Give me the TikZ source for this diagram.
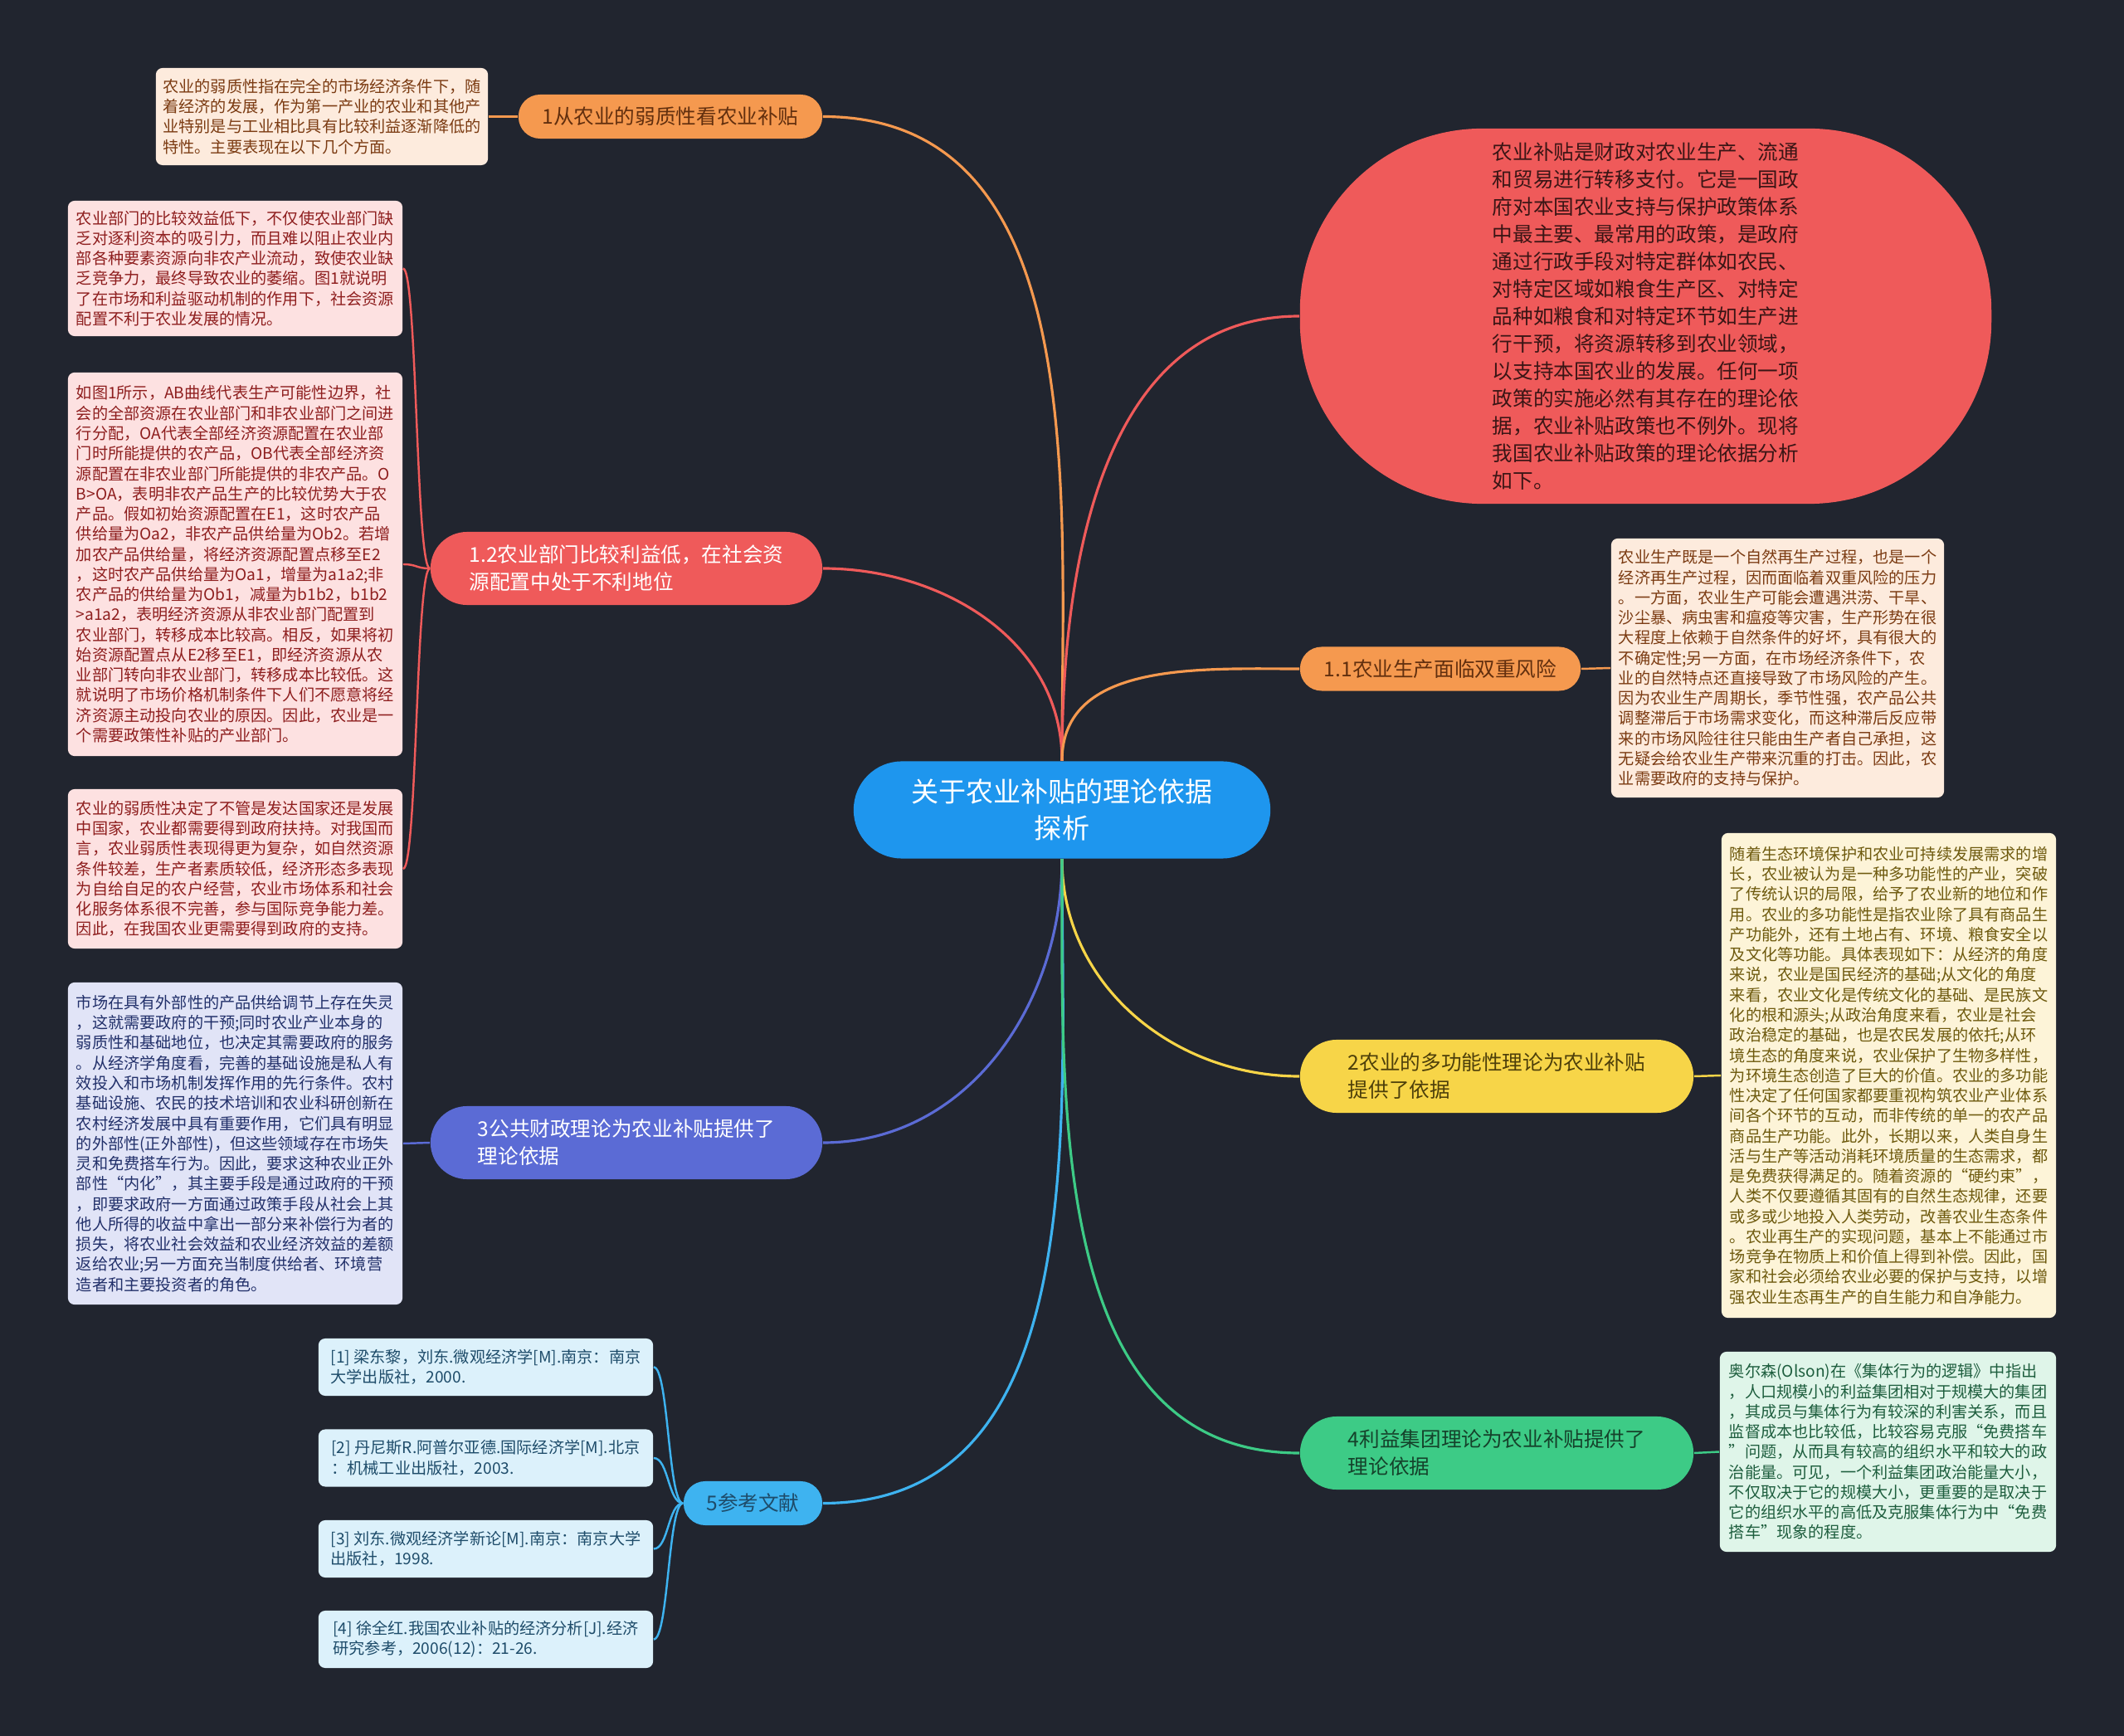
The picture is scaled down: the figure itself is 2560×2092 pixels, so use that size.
\documentclass[tikz,border=0pt]{standalone}
\usepackage{fontspec}
\setmainfont{Noto Sans CJK SC}

\definecolor{bgdark}{HTML}{21252F}
\definecolor{topicblue}{HTML}{1E96EE}
\definecolor{orangeb}{HTML}{F5994F}
\definecolor{redb}{HTML}{EF5A5A}
\definecolor{purpleb}{HTML}{5B6BD5}
\definecolor{cyanb}{HTML}{3EB3F0}
\definecolor{yellowb}{HTML}{F7D548}
\definecolor{greenb}{HTML}{3DCB86}
\definecolor{peach}{HTML}{FDEBDD}
\definecolor{peachtext}{HTML}{7B3B12}
\definecolor{pink}{HTML}{FDE1E1}
\definecolor{pinktext}{HTML}{8E1E1E}
\definecolor{lavender}{HTML}{E1E4F7}
\definecolor{lavtext}{HTML}{22306A}
\definecolor{cyanfill}{HTML}{DCF1FB}
\definecolor{cyantext}{HTML}{1E4C6A}
\definecolor{cream}{HTML}{FDF4D8}
\definecolor{creamtext}{HTML}{6E5A0E}
\definecolor{mint}{HTML}{DFF5E9}
\definecolor{minttext}{HTML}{1E5E3E}
\definecolor{introtext}{HTML}{3A1515}

\begin{document}
\begin{tikzpicture}[x=0.01cm, y=-0.01cm,
    % Node styles
    topic/.style={
        rectangle, rounded corners=0.58cm,
        minimum width=5.02cm, minimum height=1.17cm,
        fill=topicblue, text=white, align=center,
        font=\fontsize{9.4pt}{12.5pt}\selectfont,
    },
    branch/.style={
        rectangle, rounded corners=0.26cm,
        minimum height=0.53cm, inner sep=2pt,
        fill=#1, align=left,
        font=\fontsize{7pt}{9.4pt}\selectfont,
    },
    twoline/.style={
        minimum height=0.88cm, rounded corners=0.44cm,
    },
    note/.style 2 args={
        rectangle, rounded corners=0.08cm,
        minimum width=4.03cm, inner sep=2pt,
        fill=#1, text=#2, align=left,
        font=\fontsize{5.45pt}{6.9pt}\selectfont,
    },
    intro/.style={
        rectangle, rounded corners=2.2cm,
        minimum width=8.33cm, minimum height=4.52cm,
        fill=redb, text=introtext, align=left,
        font=\fontsize{7pt}{9.4pt}\selectfont,
    },
    line/.style={draw=#1, line width=0.9pt},
    link/.style={draw=#1, line width=0.7pt},
]

\fill[bgdark] (0,0) rectangle (2560,2092);
\useasboundingbox (0,0) rectangle (2560,2092);

% === Centre ===
\node[topic] (topic) at (1280,976) {关于农业补贴的理论依据\\探析};

% === Left branches ===
\node[branch=orangeb, text=peachtext!80!black, minimum width=3.66cm] (weak) at (808,140.5) {1从农业的弱质性看农业补贴};
\node[branch=redb, twoline, text=white, minimum width=4.72cm] (lowgain) at (755,685) {1.2农业部门比较利益低，在社会资\\源配置中处于不利地位};
\node[branch=purpleb, twoline, text=white, minimum width=4.72cm] (finance) at (755,1377) {3公共财政理论为农业补贴提供了\\理论依据};
\node[branch=cyanb, text=cyantext, minimum width=1.67cm] (refs) at (907.5,1811.5) {5参考文献};

% === Right branches ===
\node[intro] (intro) at (1983.5,381) {农业补贴是财政对农业生产、流通\\
和贸易进行转移支付。它是一国政\\
府对本国农业支持与保护政策体系\\
中最主要、最常用的政策，是政府\\
通过行政手段对特定群体如农民、\\
对特定区域如粮食生产区、对特定\\
品种如粮食和对特定环节如生产进\\
行干预，将资源转移到农业领域，\\
以支持本国农业的发展。任何一项\\
政策的实施必然有其存在的理论依\\
据，农业补贴政策也不例外。现将\\
我国农业补贴政策的理论依据分析\\
如下。};
\node[branch=orangeb, text=peachtext!80!black, minimum width=3.38cm] (risk) at (1736,806) {1.1农业生产面临双重风险};
\node[branch=yellowb, twoline, text=creamtext!70!black, minimum width=4.74cm] (multi) at (1804,1297) {2农业的多功能性理论为农业补贴\\提供了依据};
\node[branch=greenb, twoline, text=minttext!70!black, minimum width=4.74cm] (group) at (1804,1751) {4利益集团理论为农业补贴提供了\\理论依据};

% === Notes, left ===
\node[note={peach}{peachtext}, minimum width=4cm, minimum height=1.17cm] (weaknote) at (388,140.5) {农业的弱质性指在完全的市场经济条件下，随\\
着经济的发展，作为第一产业的农业和其他产\\
业特别是与工业相比具有比较利益逐渐降低的\\
特性。主要表现在以下几个方面。};

\node[note={pink}{pinktext}, minimum height=1.63cm] (gainone) at (283.5,323.5) {农业部门的比较效益低下，不仅使农业部门缺\\
乏对逐利资本的吸引力，而且难以阻止农业内\\
部各种要素资源向非农产业流动，致使农业缺\\
乏竞争力，最终导致农业的萎缩。图1就说明\\
了在市场和利益驱动机制的作用下，社会资源\\
配置不利于农业发展的情况。};

\node[note={pink}{pinktext}, minimum height=4.62cm] (gaintwo) at (283.5,680) {如图1所示，AB曲线代表生产可能性边界，社\\
会的全部资源在农业部门和非农业部门之间进\\
行分配，OA代表全部经济资源配置在农业部\\
门时所能提供的农产品，OB代表全部经济资\\
源配置在非农业部门所能提供的非农产品。O\\
B>OA，表明非农产品生产的比较优势大于农\\
产品。假如初始资源配置在E1，这时农产品\\
供给量为Oa2，非农产品供给量为Ob2。若增\\
加农产品供给量，将经济资源配置点移至E2\\
，这时农产品供给量为Oa1，增量为a1a2;非\\
农产品的供给量为Ob1，减量为b1b2，b1b2\\
>a1a2，表明经济资源从非农业部门配置到\\
农业部门，转移成本比较高。相反，如果将初\\
始资源配置点从E2移至E1，即经济资源从农\\
业部门转向非农业部门，转移成本比较低。这\\
就说明了市场价格机制条件下人们不愿意将经\\
济资源主动投向农业的原因。因此，农业是一\\
个需要政策性补贴的产业部门。};

\node[note={pink}{pinktext}, minimum height=1.92cm] (gainthree) at (283.5,1047) {农业的弱质性决定了不管是发达国家还是发展\\
中国家，农业都需要得到政府扶持。对我国而\\
言，农业弱质性表现得更为复杂，如自然资源\\
条件较差，生产者素质较低，经济形态多表现\\
为自给自足的农户经营，农业市场体系和社会\\
化服务体系很不完善，参与国际竞争能力差。\\
因此，在我国农业更需要得到政府的支持。};

\node[note={lavender}{lavtext}, minimum height=3.88cm] (financenote) at (283.5,1378) {市场在具有外部性的产品供给调节上存在失灵\\
，这就需要政府的干预;同时农业产业本身的\\
弱质性和基础地位，也决定其需要政府的服务\\
。从经济学角度看，完善的基础设施是私人有\\
效投入和市场机制发挥作用的先行条件。农村\\
基础设施、农民的技术培训和农业科研创新在\\
农村经济发展中具有重要作用，它们具有明显\\
的外部性(正外部性)，但这些领域存在市场失\\
灵和免费搭车行为。因此，要求这种农业正外\\
部性“内化”，其主要手段是通过政府的干预\\
，即要求政府一方面通过政策手段从社会上其\\
他人所得的收益中拿出一部分来补偿行为者的\\
损失，将农业社会效益和农业经济效益的差额\\
返给农业;另一方面充当制度供给者、环境营\\
造者和主要投资者的角色。};

% === References ===
\node[note={cyanfill}{cyantext}, minimum height=0.69cm] (refone) at (585.5,1647.5) {[1] 梁东黎，刘东.微观经济学[M].南京：南京\\大学出版社，2000.};
\node[note={cyanfill}{cyantext}, minimum height=0.69cm] (reftwo) at (585.5,1757) {[2] 丹尼斯R.阿普尔亚德.国际经济学[M].北京\\：机械工业出版社，2003.};
\node[note={cyanfill}{cyantext}, minimum height=0.69cm] (refthree) at (585.5,1866.5) {[3] 刘东.微观经济学新论[M].南京：南京大学\\出版社，1998.};
\node[note={cyanfill}{cyantext}, minimum height=0.69cm] (reffour) at (585.5,1975.5) {[4] 徐全红.我国农业补贴的经济分析[J].经济\\研究参考，2006(12)：21-26.};

% === Notes, right ===
\node[note={peach}{peachtext}, minimum width=4.01cm, minimum height=3.12cm] (risknote) at (2142.5,805) {农业生产既是一个自然再生产过程，也是一个\\
经济再生产过程，因而面临着双重风险的压力\\
。一方面，农业生产可能会遭遇洪涝、干旱、\\
沙尘暴、病虫害和瘟疫等灾害，生产形势在很\\
大程度上依赖于自然条件的好坏，具有很大的\\
不确定性;另一方面，在市场经济条件下，农\\
业的自然特点还直接导致了市场风险的产生。\\
因为农业生产周期长，季节性强，农产品公共\\
调整滞后于市场需求变化，而这种滞后反应带\\
来的市场风险往往只能由生产者自己承担，这\\
无疑会给农业生产带来沉重的打击。因此，农\\
业需要政府的支持与保护。};

\node[note={cream}{creamtext}, minimum height=5.84cm] (multinote) at (2276.5,1296) {随着生态环境保护和农业可持续发展需求的增\\
长，农业被认为是一种多功能性的产业，突破\\
了传统认识的局限，给予了农业新的地位和作\\
用。农业的多功能性是指农业除了具有商品生\\
产功能外，还有土地占有、环境、粮食安全以\\
及文化等功能。具体表现如下：从经济的角度\\
来说，农业是国民经济的基础;从文化的角度\\
来看，农业文化是传统文化的基础、是民族文\\
化的根和源头;从政治角度来看，农业是社会\\
政治稳定的基础，也是农民发展的依托;从环\\
境生态的角度来说，农业保护了生物多样性，\\
为环境生态创造了巨大的价值。农业的多功能\\
性决定了任何国家都要重视构筑农业产业体系\\
间各个环节的互动，而非传统的单一的农产品\\
商品生产功能。此外，长期以来，人类自身生\\
活与生产等活动消耗环境质量的生态需求，都\\
是免费获得满足的。随着资源的“硬约束”，\\
人类不仅要遵循其固有的自然生态规律，还要\\
或多或少地投入人类劳动，改善农业生态条件\\
。农业再生产的实现问题，基本上不能通过市\\
场竞争在物质上和价值上得到补偿。因此，国\\
家和社会必须给农业必要的保护与支持，以增\\
强农业生态再生产的自生能力和自净能力。};

\node[note={mint}{minttext}, minimum width=4.05cm, minimum height=2.41cm] (groupnote) at (2275.5,1749.5) {奥尔森(Olson)在《集体行为的逻辑》中指出\\
，人口规模小的利益集团相对于规模大的集团\\
，其成员与集体行为有较深的利害关系，而且\\
监督成本也比较低，比较容易克服“免费搭车\\
”问题，从而具有较高的组织水平和较大的政\\
治能量。可见，一个利益集团政治能量大小，\\
不仅取决于它的规模大小，更重要的是取决于\\
它的组织水平的高低及克服集体行为中“免费\\
搭车”现象的程度。};

% === Edges: centre to branches ===
\draw[line=orangeb] (topic.north) to[out=90, in=0] (weak.east);
\draw[line=redb] (topic.north) to[out=90, in=0] (lowgain.east);
\draw[line=redb] (topic.north) to[out=90, in=180] (intro.west);
\draw[line=orangeb] (topic.north) to[out=90, in=180] (risk.west);
\draw[line=purpleb] (topic.south) to[out=-90, in=0] (finance.east);
\draw[line=cyanb] (topic.south) to[out=-90, in=0] (refs.east);
\draw[line=yellowb] (topic.south) to[out=-90, in=180] (multi.west);
\draw[line=greenb] (topic.south) to[out=-90, in=180] (group.west);

% === Edges: branches to notes ===
\draw[link=orangeb] (weak.west) -- (weaknote.east);
\draw[link=redb] (lowgain.west) .. controls +(-17,0) and +(17,0) .. (gainone.east);
\draw[link=redb] (lowgain.west) .. controls +(-17,0) and +(17,0) .. (gaintwo.east);
\draw[link=redb] (lowgain.west) .. controls +(-17,0) and +(17,0) .. (gainthree.east);
\draw[link=purpleb] (finance.west) -- (financenote.east);
\draw[link=cyanb] (refs.west) .. controls +(-18,0) and +(18,0) .. (refone.east);
\draw[link=cyanb] (refs.west) .. controls +(-18,0) and +(18,0) .. (reftwo.east);
\draw[link=cyanb] (refs.west) .. controls +(-18,0) and +(18,0) .. (refthree.east);
\draw[link=cyanb] (refs.west) .. controls +(-18,0) and +(18,0) .. (reffour.east);
\draw[link=orangeb] (risk.east) -- (risknote.west);
\draw[link=yellowb] (multi.east) -- (multinote.west);
\draw[link=greenb] (group.east) -- (groupnote.west);

\end{tikzpicture}
\end{document}
